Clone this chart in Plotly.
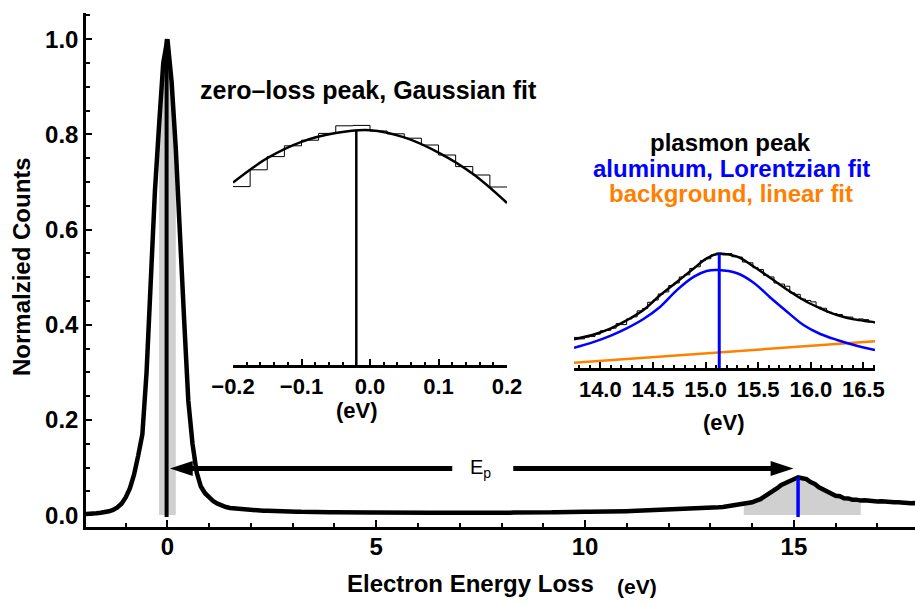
import numpy as np
import plotly.graph_objects as go

# ---------------- data ----------------
# main EELS spectrum, normalized counts, 0.1 eV steps starting at -2.0 eV
energy_start = -2.0
energy_step = 0.1
counts = [
    0.002, 0.002, 0.003, 0.004, 0.005, 0.006, 0.008, 0.011, 0.016, 0.024,   # -2.0 .. -1.1
    0.037, 0.056, 0.085, 0.125, 0.170, 0.300, 0.510, 0.680, 0.820, 0.950,   # -1.0 .. -0.1
    1.000, 0.910, 0.770, 0.570, 0.410, 0.240, 0.150, 0.090, 0.060, 0.046,   # 0.0 .. 0.9
    0.036, 0.029, 0.024, 0.020, 0.017, 0.015, 0.014, 0.013, 0.012, 0.011,   # 1.0 .. 1.9
    0.0105, 0.0100, 0.0095, 0.0090, 0.0091, 0.0085, 0.0080, 0.0081, 0.0075, 0.0076,
    0.0070, 0.0072, 0.0068, 0.0070, 0.0066, 0.0064, 0.0066, 0.0062, 0.0063, 0.0060,
    0.0060, 0.0062, 0.0058, 0.0060, 0.0057, 0.0058, 0.0055, 0.0057, 0.0054, 0.0056,
    0.0055, 0.0053, 0.0056, 0.0052, 0.0054, 0.0051, 0.0053, 0.0052, 0.0050, 0.0053,
    0.0050, 0.0052, 0.0049, 0.0051, 0.0050, 0.0048, 0.0051, 0.0049, 0.0050, 0.0048,
    0.0050, 0.0049, 0.0051, 0.0048, 0.0050, 0.0052, 0.0049, 0.0051, 0.0050, 0.0053,
    0.0052, 0.0054, 0.0051, 0.0055, 0.0053, 0.0056, 0.0054, 0.0057, 0.0056, 0.0058,
    0.0058, 0.0060, 0.0059, 0.0062, 0.0060, 0.0063, 0.0064, 0.0062, 0.0066, 0.0067,
    0.0068, 0.0070, 0.0069, 0.0072, 0.0073, 0.0075, 0.0074, 0.0078, 0.0079, 0.0082,
    0.0083, 0.0085, 0.0088, 0.0087, 0.0091, 0.0094, 0.0093, 0.0097, 0.0100, 0.0102,
    0.0106, 0.0108, 0.0112, 0.0115, 0.0119, 0.0123, 0.0128, 0.0133, 0.0137, 0.0143,
    0.0150, 0.0156, 0.0163, 0.0170, 0.0182, 0.0190, 0.0205, 0.0212, 0.0230, 0.0248,
    0.0270, 0.0305, 0.0335, 0.0395, 0.0445, 0.0515, 0.0565, 0.0635, 0.0675, 0.0735,
    0.0765, 0.0795, 0.0775, 0.0755, 0.0695, 0.0655, 0.0585, 0.0545, 0.0485, 0.0455,
    0.0405, 0.0395, 0.0355, 0.0350, 0.0325, 0.0325, 0.0305, 0.0310, 0.0295, 0.0300,
    0.0288, 0.0290, 0.0278, 0.0280, 0.0268, 0.0270, 0.0258, 0.0262, 0.0248, 0.0252,
    0.0240,
]
energy = np.round(energy_start + energy_step * np.arange(len(counts)), 2)

zlp_window = [-0.2, 0.2]          # shaded zero-loss window (eV)
plasmon_window = [13.75, 16.6]    # shaded plasmon window (eV)
zlp_center = -0.02                # Gaussian fit centre (eV)
plasmon_center = 15.1             # Lorentzian fit centre (eV)

# E_p arrow
arrow_y = 0.098
arrow_left = 0.06
arrow_right = 14.99
arrow_gap = [6.82, 8.28]
ep_label_x = 7.5

# inset 1: zero-loss peak histogram (0.025 eV bins) and Gaussian fit
zlp_bin_start = -0.2
zlp_bin_width = 0.025
zlp_hist = [0.846, 0.888, 0.921, 0.948, 0.962, 0.979, 0.998, 0.999,
            0.985, 0.978, 0.967, 0.950, 0.925, 0.896, 0.875, 0.845]
zlp_fit_x = [-0.2, -0.15, -0.1, -0.05, 0.0, 0.05, 0.1, 0.15, 0.2]
zlp_fit_y = [0.856, 0.917, 0.958, 0.980, 0.987, 0.969, 0.931, 0.878, 0.805]
zlp_fit_peak = 0.988

# inset 2: plasmon histogram (0.05 eV bins), total fit, Lorentzian, linear background
pl_bin_start = 13.75
pl_bin_width = 0.05
pl_hist = [0.0215, 0.0205, 0.0218, 0.0222, 0.0238, 0.0262, 0.0265, 0.0280, 0.0312, 0.0305,
           0.0345, 0.0360, 0.0402, 0.0418, 0.0462, 0.0478, 0.0520, 0.0535, 0.0580, 0.0598,
           0.0640, 0.0655, 0.0700, 0.0712, 0.0755, 0.0768, 0.0795, 0.0808, 0.0796, 0.0805,
           0.0782, 0.0780, 0.0745, 0.0740, 0.0705, 0.0692, 0.0652, 0.0640, 0.0598, 0.0590,
           0.0575, 0.0528, 0.0518, 0.0485, 0.0475, 0.0465, 0.0428, 0.0420, 0.0392, 0.0382,
           0.0376, 0.0358, 0.0358, 0.0342, 0.0345, 0.0340, 0.0324]
total_fit_x = [13.75, 13.94, 14.10, 14.25, 14.41, 14.57, 14.73, 14.89, 15.01, 15.125,
               15.30, 15.46, 15.62, 15.78, 15.93, 16.09, 16.25, 16.41, 16.57, 16.61]
total_fit_y = [0.0202, 0.0236, 0.0279, 0.0335, 0.0408, 0.0513, 0.0607, 0.0701, 0.0771, 0.0803,
               0.0783, 0.0712, 0.0631, 0.0549, 0.0478, 0.0420, 0.0373, 0.0342, 0.0326, 0.0320]
lorentz_fit_x = [13.75, 13.94, 14.10, 14.25, 14.41, 14.57, 14.73, 14.89, 15.01, 15.12,
                 15.30, 15.46, 15.62, 15.78, 15.93, 16.09, 16.25, 16.41, 16.61]
lorentz_fit_y = [0.0142, 0.0184, 0.0228, 0.0279, 0.0345, 0.0431, 0.0549, 0.0642, 0.0682, 0.0689,
                 0.0666, 0.0598, 0.0492, 0.0392, 0.0302, 0.0239, 0.0197, 0.0162, 0.0126]
bg_x = [13.75, 16.61]
bg_y = [0.0037, 0.0188]
pl_fit_peak = 0.0803

# tick labels
main_xticks = [0, 5, 10, 15]
main_yticks = [0.0, 0.2, 0.4, 0.6, 0.8, 1.0]
inset1_ticks = [-0.2, -0.1, 0.0, 0.1, 0.2]
inset2_ticks = [14.0, 14.5, 15.0, 15.5, 16.0, 16.5]

# ---------------- styling ----------------
FONT = "Liberation Sans, Arial, sans-serif"
BLUE = "rgb(0,0,255)"
ORANGE = "rgb(255,128,0)"
GRAY = "rgb(208,208,208)"
W, H = 915, 603
ML, MR, MT, MB = 86, 0, 13, 76
PW, PH = W - ML - MR, H - MT - MB


def px_x(px):
    return (px - ML) / PW


def px_y(py):
    return (H - MB - py) / PH


fig = go.Figure()

# shaded windows
for lo, hi in (zlp_window, plasmon_window):
    m = (energy >= lo - 1e-9) & (energy <= hi + 1e-9)
    fig.add_trace(go.Scatter(x=energy[m], y=np.array(counts)[m], mode="lines",
                             line=dict(width=0, color=GRAY), fill="tozeroy",
                             fillcolor=GRAY, hoverinfo="skip", showlegend=False))

# main spectrum
fig.add_trace(go.Scatter(x=energy, y=counts, mode="lines",
                         line=dict(color="black", width=4.5), showlegend=False))

# peak position markers
fig.add_trace(go.Scatter(x=[zlp_center, zlp_center], y=[-0.004, max(counts)], mode="lines",
                         line=dict(color="black", width=4), showlegend=False))
pl_top = float(np.interp(plasmon_center, energy, counts))
fig.add_trace(go.Scatter(x=[plasmon_center, plasmon_center], y=[-0.004, pl_top], mode="lines",
                         line=dict(color=BLUE, width=3.5), showlegend=False))

# E_p double arrow
fig.add_trace(go.Scatter(x=[arrow_left + 0.25, arrow_gap[0], None, arrow_gap[1], arrow_right - 0.25],
                         y=[arrow_y, arrow_y, None, arrow_y, arrow_y], mode="lines",
                         line=dict(color="black", width=5), showlegend=False))
fig.add_trace(go.Scatter(x=[arrow_left, arrow_right], y=[arrow_y, arrow_y], mode="markers",
                         marker=dict(symbol="arrow", size=24, angle=[-90, 90], color="black",
                                     line=dict(width=0)),
                         showlegend=False))

# inset 1
z_edges = zlp_bin_start + zlp_bin_width * np.arange(len(zlp_hist) + 1)
fig.add_trace(go.Scatter(x=z_edges, y=list(zlp_hist) + [zlp_hist[-1]], mode="lines",
                         line=dict(color="black", width=1, shape="hv"),
                         xaxis="x2", yaxis="y2", showlegend=False))
fig.add_trace(go.Scatter(x=zlp_fit_x, y=zlp_fit_y, mode="lines",
                         line=dict(color="black", width=2.5, shape="spline"),
                         xaxis="x2", yaxis="y2", showlegend=False))
fig.add_trace(go.Scatter(x=[zlp_center, zlp_center], y=[0.4, zlp_fit_peak], mode="lines",
                         line=dict(color="black", width=2.5),
                         xaxis="x2", yaxis="y2", showlegend=False))

# inset 2
p_edges = pl_bin_start + pl_bin_width * np.arange(len(pl_hist) + 1)
fig.add_trace(go.Scatter(x=p_edges, y=list(pl_hist) + [pl_hist[-1]], mode="lines",
                         line=dict(color="black", width=1, shape="hv"),
                         xaxis="x3", yaxis="y3", showlegend=False))
fig.add_trace(go.Scatter(x=bg_x, y=bg_y, mode="lines", line=dict(color=ORANGE, width=2.5),
                         xaxis="x3", yaxis="y3", showlegend=False))
fig.add_trace(go.Scatter(x=lorentz_fit_x, y=lorentz_fit_y, mode="lines",
                         line=dict(color=BLUE, width=2.5, shape="spline", smoothing=1),
                         xaxis="x3", yaxis="y3", showlegend=False))
fig.add_trace(go.Scatter(x=total_fit_x, y=total_fit_y, mode="lines",
                         line=dict(color="black", width=2.5, shape="spline", smoothing=1),
                         xaxis="x3", yaxis="y3", showlegend=False))
fig.add_trace(go.Scatter(x=[plasmon_center + 0.03, plasmon_center + 0.03], y=[0, pl_fit_peak],
                         mode="lines", line=dict(color=BLUE, width=3),
                         xaxis="x3", yaxis="y3", showlegend=False))

bold = dict(family=FONT, size=24, color="black", weight="bold")
axis_common = dict(showline=True, linecolor="black", linewidth=2.5, ticks="inside",
                   tickcolor="black", showgrid=False, zeroline=False, automargin=False)

fig.update_layout(
    template="none",
    width=W, height=H, autosize=False,
    margin=dict(l=ML, r=MR, t=MT, b=MB, pad=0, autoexpand=False),
    plot_bgcolor="white", paper_bgcolor="white",
    showlegend=False,
    xaxis=dict(**axis_common, domain=[0, 1], range=[-1.95, 17.9], tickvals=main_xticks,
               ticktext=[str(v) for v in main_xticks], ticklen=7, tickwidth=2,
               ticklabelstandoff=-4,
               minor=dict(ticks="inside", dtick=1, tick0=0, ticklen=4, tickwidth=1.5,
                          tickcolor="black"),
               tickfont=bold),
    yaxis=dict(**axis_common, domain=[0, 1], range=[-0.025, 1.055], tickvals=main_yticks,
               tickformat=".1f", ticklen=6, tickwidth=2,
               minor=dict(ticks="inside", dtick=0.05, tick0=0, ticklen=4, tickwidth=1.5,
                          tickcolor="black"),
               tickfont=bold),
    xaxis2=dict(**axis_common, domain=[px_x(233), px_x(507)], range=[-0.2, 0.2],
                anchor="y2", tickvals=inset1_ticks, tickformat=".1f", ticklen=6, tickwidth=2,
                minor=dict(ticks="inside", dtick=0.02, tick0=0, ticklen=3, tickwidth=1.5,
                           tickcolor="black"),
                tickfont=dict(bold, size=22)),
    yaxis2=dict(domain=[px_y(365), px_y(115)], range=[0.4, 1.025], anchor="x2",
                visible=False, automargin=False),
    xaxis3=dict(**axis_common, domain=[px_x(574), px_x(875)], range=[13.75, 16.61],
                anchor="y3", tickvals=inset2_ticks, tickformat=".1f", ticklen=6, tickwidth=2,
                minor=dict(ticks="inside", dtick=0.1, tick0=0, ticklen=3, tickwidth=1.5,
                           tickcolor="black"),
                tickfont=dict(bold, size=22)),
    yaxis3=dict(domain=[px_y(368), px_y(240)], range=[0, 0.09], anchor="x3", visible=False,
                automargin=False),
)

ann = []


def text(s, px, py, size=25, color="black", angle=0, weight="bold"):
    ann.append(dict(text=s, xref="paper", yref="paper", x=px_x(px), y=px_y(py),
                    xanchor="center", yanchor="middle", showarrow=False, textangle=angle,
                    font=dict(family=FONT, size=size, color=color, weight=weight)))


text("zero\u2013loss peak, Gaussian fit", 368, 90)
text("plasmon peak", 730, 142, size=24)
text("aluminum, Lorentzian fit", 731, 168, size=24, color=BLUE)
text("background, linear fit", 731, 194, size=24, color=ORANGE)
text("(eV)", 357, 410, size=22)
text("(eV)", 724, 422, size=22)
text("Electron Energy Loss", 470, 583, size=24)
text("(eV)", 637, 586, size=21)
text("Normalzied Counts", 21, 267, size=24, angle=-90)
ann.append(dict(text="E<sub>p</sub>", x=ep_label_x, y=arrow_y, xref="x", yref="y",
                xanchor="center", yanchor="middle", showarrow=False,
                font=dict(family=FONT, size=20, color="black")))
fig.update_layout(annotations=ann)

fig.write_html("out.html",
               config={"responsive": False, "displayModeBar": False},
               post_script="document.body.style.margin='0';document.body.style.overflow='hidden';")
